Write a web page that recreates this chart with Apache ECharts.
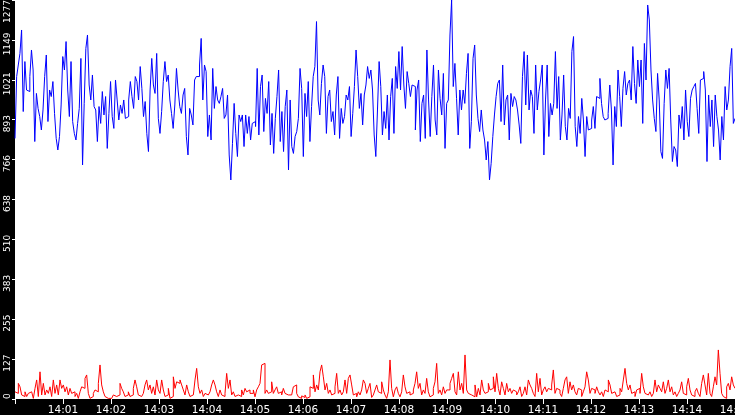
<!DOCTYPE html>
<html>
<head>
<meta charset="utf-8">
<script src="https://cdn.jsdelivr.net/npm/echarts@6/dist/echarts.min.js"></script>
<style>
html,body{margin:0;padding:0;background:#000;}
#chart{width:735px;height:415px;}
</style>
</head>
<body>
<div id="chart"></div>
<script>
// Time span (seconds after 14:00:00) and minute tick labels
var spanSeconds = 900;
var minuteLabels = ['14:00','14:01','14:02','14:03','14:04','14:05','14:06','14:07','14:08','14:09','14:10','14:11','14:12','14:13','14:14','14:15'];
var yTickLabels = [0,127,255,383,510,638,766,893,1021,1149,1277];
var yMax = 1277;

// Blue series (evenly sampled over the span)
var blueValues = [
834,1032,1069,1106,1181,920,1080,989,984,1032,1117,1053,824,978,930,904,861,925,1032,1101,
888,989,968,1016,914,834,797,840,941,1096,1053,1144,989,904,1080,888,850,829,882,930,
1090,749,946,1122,1165,1005,957,1037,936,925,824,936,882,984,909,968,802,914,1016,904,
866,1021,957,893,941,914,957,898,904,957,1016,968,930,1032,1016,957,1064,994,904,952,
850,792,989,1090,1005,978,1106,898,850,920,1016,1080,1016,1037,957,914,866,941,1058,989,
936,914,973,994,840,781,930,909,877,1021,1032,1032,1069,1154,957,1069,1048,840,909,829,
1058,930,1000,957,946,968,994,898,909,973,781,701,818,946,850,776,909,888,909,808,
909,850,904,829,882,888,
872,1058,845,1000,1037,856,962,914,1016,813,914,786,898,968,1053,824,920,792,936,989,
733,957,808,786,840,856,898,1058,994,776,978,904,1016,824,936,1032,1064,1208,957,909,
1010,1069,1032,850,968,989,888,920,845,973,1032,834,930,882,904,973,957,1000,840,914,
1000,1117,1032,930,978,877,973,1005,1064,1026,1053,989,845,776,925,1080,1000,845,920,866,
973,829,968,1026,850,1064,994,1112,989,1128,1005,930,1048,1010,
968,1005,1000,861,989,1021,824,946,973,834,1117,957,840,968,1069,893,845,1053,962,909,
1042,802,946,957,1165,1277,1000,1074,962,845,989,925,989,946,1042,1106,802,888,1090,1133,
973,898,856,925,861,829,765,824,701,754,840,909,968,1010,1021,888,1069,877,957,973,
829,978,936,968,957,925,877,818,1032,
1112,941,1101,925,989,968,850,1069,925,984,1021,1069,781,957,1069,840,946,909,946,1112,
930,1032,829,909,1037,872,829,930,898,1112,1160,872,808,904,850,962,893,776,904,861,
866,893,936,866,968,962,1026,946,904,893,898,
914,1005,925,749,936,872,1053,968,872,994,1048,973,1010,1021,957,1128,1010,946,1085,1000,
1085,882,1138,1021,1261,1213,1053,957,898,856,1042,957,792,770,946,1053,994,1058,893,760,
808,797,744,909,866,936,829,989,888,840,962,989,1000,1010,930,850,1021,1026,1048,989,
760,973,872,957,808,973,904,861,765,904,829,1000,925,957,1064,1122,882,898
];

// Red series (evenly sampled over the span)
var redValues = [
23,18,50,39,13,8,23,8,18,23,18,2,34,61,8,87,13,50,13,29,
18,39,8,61,18,45,13,61,34,45,23,39,13,34,18,23,8,18,2,23,
39,34,66,77,18,2,8,18,29,23,50,109,45,23,8,2,8,2,8,13,
8,2,13,50,34,23,8,13,23,8,13,34,61,39,13,8,2,18,45,61,
29,45,18,39,13,61,29,18,61,29,8,13,34,2,8,71,34,55,50,61,
45,29,13,45,23,8,13,18,61,98,39,18,29,8,18,13,8,23,45,61,
45,23,8,29,13,8,18,82,34,61,13,23,8,13,18,8,29,13,34,23,
29,18,
18,29,7,29,39,50,109,114,18,29,18,23,55,18,29,39,18,23,13,34,
18,13,7,13,7,39,45,18,7,2,10,5,13,2,7,39,34,77,23,45,
29,87,109,71,29,50,18,29,13,18,39,82,18,29,13,23,61,18,66,77,
45,13,18,7,23,13,29,61,50,18,34,50,5,13,29,45,23,18,55,29,
13,2,23,125,34,7,29,39,18,7,23,77,39,18,23,13,18,29,50,87,
34,50,13,29,18,66,23,7,13,34,55,114,18,29,13,39,18,29,29,50,
66,82,23,13,87,29,50,18,141,29,18,13,18,7,45,7,34,13,61,29,
18,
23,50,29,34,71,23,82,34,13,55,34,13,50,23,34,18,29,23,13,23,
39,8,18,39,13,61,45,34,18,8,82,23,66,13,29,39,23,34,29,45,
93,18,34,29,18,8,34,61,71,18,55,29,45,23,13,34,29,8,23,39,
87,61,18,34,29,18,39,23,13,23,8,29,23,61,45,18,23,29,8,13,
34,23,61,98,50,29,45,18,23,8,29,34,18,82,39,18,13,8,23,8,
18,61,23,45,34,23,55,18,34,61,23,39,13,23,8,18,29,55,18,13,
39,66,29,13,8,23,34,18,8,50,77,45,13,82,18,8,39,71,45,157,
82,18,8,2,39,50,29,71,45,34
];

function toPairs(vals) {
  var step = spanSeconds / (vals.length - 1);
  return vals.map(function (v, i) { return [i * step, v]; });
}

var chart = echarts.init(document.getElementById('chart'), null, {renderer: 'canvas'});
var font = 'DejaVu Sans';
chart.setOption({
  backgroundColor: '#000',
  animation: false,
  grid: {left: 15, right: 0, top: 0, bottom: 16, show: true, backgroundColor: '#fff', borderWidth: 0,
    containLabel: false, outerBoundsMode: 'none'},
  xAxis: {
    type: 'value', min: 0, max: spanSeconds, interval: 60,
    axisLine: {show: false},
    axisTick: {show: true, length: 5, lineStyle: {color: '#fff', width: 1}},
    splitLine: {show: false},
    axisLabel: {
      color: '#fff', fontFamily: font, fontSize: 10.5, margin: 6, hideOverlap: false,
      formatter: function (v) {
        var idx = Math.round(v / 60);
        return idx === 0 ? '' : minuteLabels[idx];
      }
    }
  },
  yAxis: {
    type: 'value', min: 0, max: yMax, interval: yMax / 10,
    axisLine: {show: false},
    axisTick: {show: true, length: 3, lineStyle: {color: '#fff', width: 1}},
    splitLine: {show: false},
    axisLabel: {
      color: '#fff', fontFamily: font, fontSize: 9, margin: 3, rotate: 90,
      alignMinLabel: 'left', alignMaxLabel: 'right',
      formatter: function (v) {
        var idx = Math.round(v / (yMax / 10));
        var s = String(yTickLabels[idx]);
        if (idx === 10) return '{m|' + s + '}';
        if (idx === 0) return '{z|' + s + '}';
        return '{a|' + s + '}';
      },
      rich: {
        a: {color: '#fff', fontFamily: font, fontSize: 9, padding: [0, 8, 0, 0]},
        m: {color: '#fff', fontFamily: font, fontSize: 9},
        z: {color: '#fff', fontFamily: font, fontSize: 9}
      }
    }
  },
  series: [
    {type: 'line', name: 'blue', data: toPairs(blueValues), step: 'end', showSymbol: false, symbol: 'none',
      lineStyle: {color: '#0000ff', width: 1}, itemStyle: {color: '#0000ff'}},
    {type: 'line', name: 'red', data: toPairs(redValues), step: 'end', showSymbol: false, symbol: 'none',
      lineStyle: {color: '#ff0000', width: 1}, itemStyle: {color: '#ff0000'}}
  ]
});
</script>
</body>
</html>
